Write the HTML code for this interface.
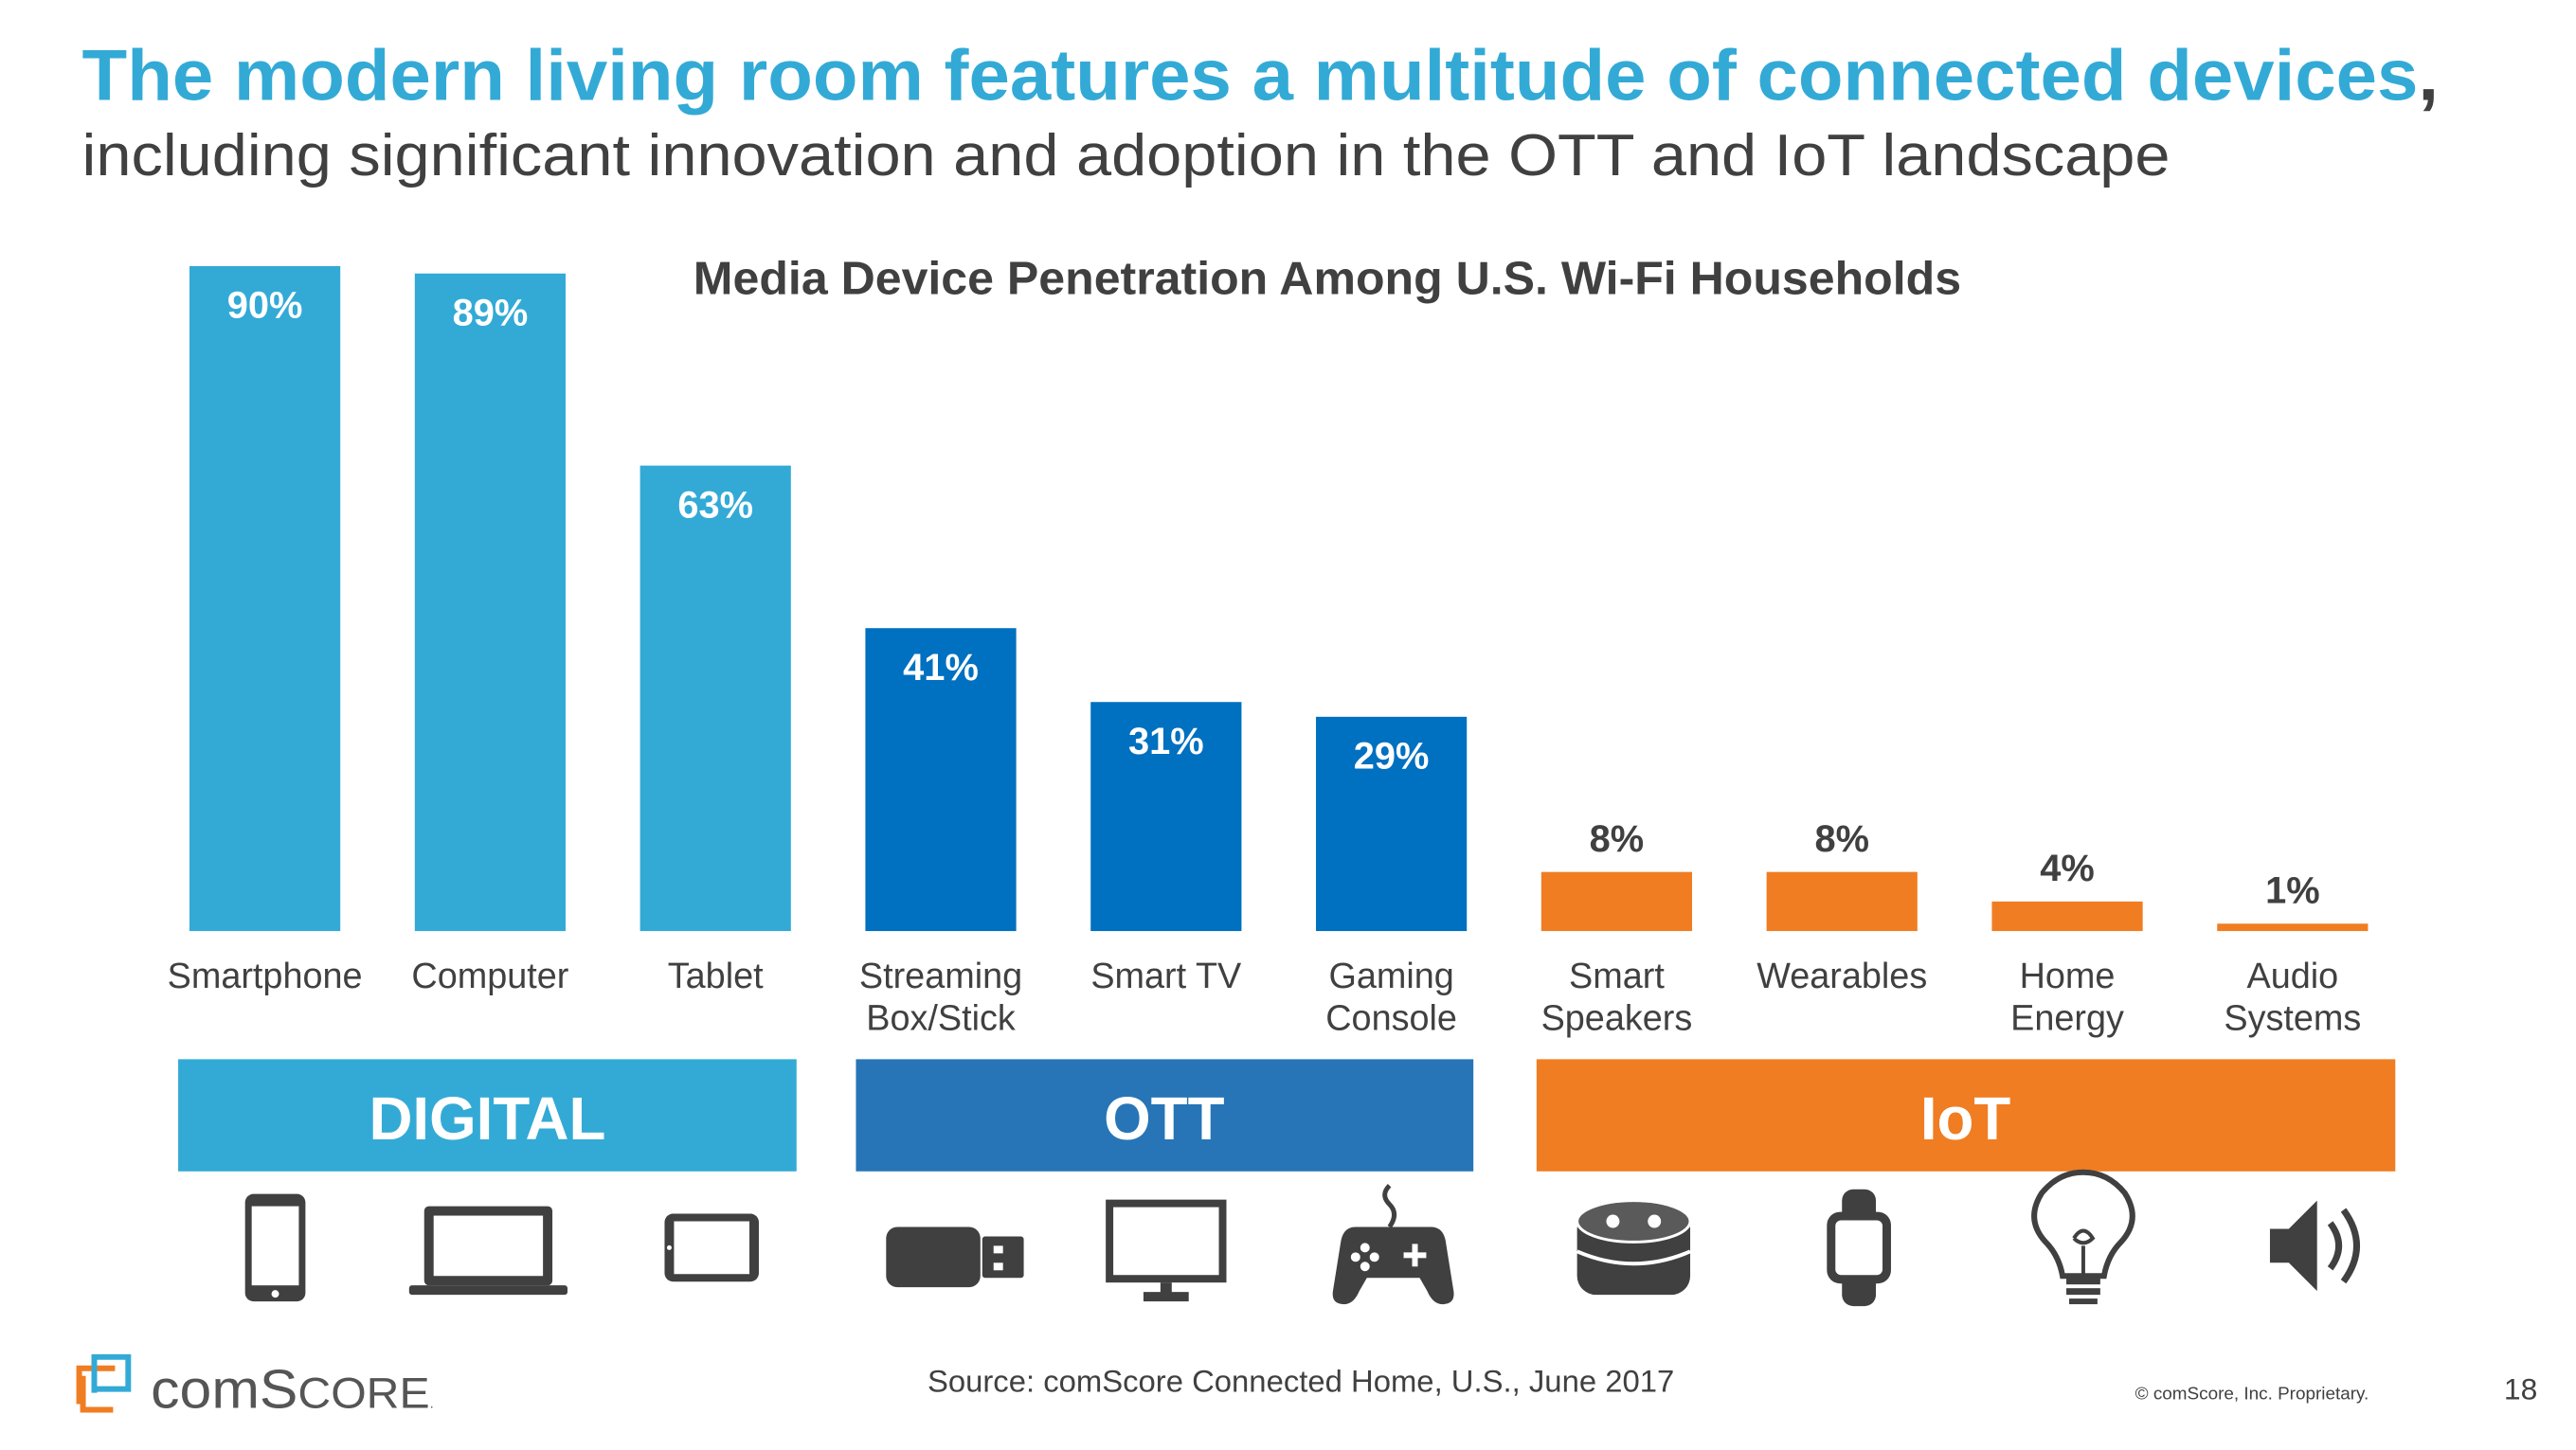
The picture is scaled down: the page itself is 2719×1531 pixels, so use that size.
<!DOCTYPE html>
<html><head><meta charset="utf-8"><style>
html,body{margin:0;padding:0;background:#fff;}
svg{display:block;font-family:"Liberation Sans",Arial,sans-serif;}
</style></head><body>
<svg id="chart" width="2719" height="1531" viewBox="0 0 2719 1531" xmlns="http://www.w3.org/2000/svg">
<g transform="scale(0.995)">
<text x="87" y="106" font-size="76" font-weight="bold" fill="#33aad6" textLength="2500" lengthAdjust="spacingAndGlyphs">The modern living room features a multitude of connected devices<tspan fill="#404040">,</tspan></text>
<text x="87" y="186" font-size="62" fill="#404040" textLength="2215" lengthAdjust="spacingAndGlyphs">including significant innovation and adoption in the OTT and IoT landscape</text>
<text x="1408" y="312" font-size="49" font-weight="bold" fill="#404040" text-anchor="middle" textLength="1345" lengthAdjust="spacingAndGlyphs">Media Device Penetration Among U.S. Wi-Fi Households</text>
<g id="bars"></g>
<g id="labels"></g>

<rect x="189" y="1124" width="656" height="119" fill="#33aad6"/>
<text x="517" y="1209" font-size="64" font-weight="bold" fill="#fff" text-anchor="middle">DIGITAL</text>
<rect x="908" y="1124" width="655" height="119" fill="#2775b6"/>
<text x="1235" y="1209" font-size="64" font-weight="bold" fill="#fff" text-anchor="middle">OTT</text>
<rect x="1630" y="1124" width="911" height="119" fill="#f07d22"/>
<text x="2085" y="1209" font-size="64" font-weight="bold" fill="#fff" text-anchor="middle">IoT</text>

<g fill="#404040">
<g transform="translate(292,1324)"><rect x="-32" y="-57" width="64" height="114" rx="9"/><rect x="-25" y="-44" width="50" height="84" fill="#fff"/><circle cx="0" cy="49" r="4" fill="#fff"/></g>
<g transform="translate(518,1324)"><rect x="-68" y="-44" width="136" height="84" rx="5"/><rect x="-58" y="-34" width="116" height="64" fill="#fff"/><rect x="-84" y="40" width="168" height="10" rx="3"/></g>
<g transform="translate(755,1324)"><rect x="-50" y="-36" width="100" height="72" rx="9"/><rect x="-40" y="-28" width="80" height="56" fill="#fff"/><circle cx="-45" cy="0" r="2.5" fill="#fff"/></g>
<g transform="translate(1010,1334)"><rect x="-70" y="-32" width="100" height="64" rx="12"/><rect x="32" y="-22" width="44" height="44" rx="3"/><rect x="44" y="-12" width="10" height="8" fill="#fff"/><rect x="44" y="6" width="10" height="8" fill="#fff"/></g>
<g transform="translate(1237,1318)"><rect x="-64" y="-45" width="128" height="88"/><rect x="-56" y="-37" width="112" height="72" fill="#fff"/><rect x="-6" y="43" width="12" height="12"/><rect x="-24" y="53" width="48" height="10"/></g>
<g transform="translate(1478,1330)"><path d="M-4,-72 q-10,10 0,20 q10,10 0,24" fill="none" stroke="#404040" stroke-width="5"/><path d="M-40,-28 h80 q14,0 16,18 l8,50 q2,14 -12,14 q-10,0 -16,-14 l-8,-14 h-56 l-8,14 q-6,14 -16,14 q-14,0 -12,-14 l8,-50 q2,-18 16,-18z"/><rect x="20" y="-10" width="6" height="24" fill="#fff"/><rect x="11" y="-1" width="24" height="6" fill="#fff"/><circle cx="-30" cy="-6" r="5" fill="#fff"/><circle cx="-20" cy="4" r="5" fill="#fff"/><circle cx="-40" cy="4" r="5" fill="#fff"/><circle cx="-30" cy="14" r="5" fill="#fff"/></g>
<g transform="translate(1733,1326)"><rect x="-60" y="-42" width="120" height="90" rx="20"/><ellipse cx="0" cy="-30" rx="60" ry="22" fill="#5a5a5a" stroke="#fff" stroke-width="3"/><circle cx="-22" cy="-30" r="7" fill="#fff"/><circle cx="22" cy="-30" r="7" fill="#fff"/><path d="M-60,2 q60,26 120,0" fill="none" stroke="#fff" stroke-width="4"/></g>
<g transform="translate(1972,1324)"><rect x="-18" y="-62" width="36" height="124" rx="12"/><rect x="-34" y="-38" width="68" height="76" rx="14"/><rect x="-25" y="-29" width="50" height="58" rx="6" fill="#fff"/></g>
<g transform="translate(2210,1316)"><path d="M-22,38 q-4,-22 -18,-36 q-22,-24 -4,-52 q18,-22 44,-22 q26,0 44,22 q18,28 -4,52 q-14,14 -18,36z" fill="none" stroke="#404040" stroke-width="6"/><path d="M0,36 v-30 m-10,-8 q10,-16 20,0 q-10,10 -20,0" fill="none" stroke="#404040" stroke-width="4"/><rect x="-18" y="40" width="36" height="7"/><rect x="-18" y="51" width="36" height="7"/><rect x="-15" y="62" width="30" height="6"/></g>
<g transform="translate(2458,1322)"><path d="M-50,-18 h20 l30,-30 v96 l-30,-30 h-20z"/><path d="M14,-24 q18,24 0,48" fill="none" stroke="#404040" stroke-width="7"/><path d="M28,-38 q28,38 0,76" fill="none" stroke="#404040" stroke-width="7"/></g>
</g>

<g>
<path d="M84,1490 v-38 h38 M88,1460 v36 h32" fill="none" stroke="#f07d22" stroke-width="6"/>
<path d="M100,1478 v-38 h36 v34 h-36" fill="none" stroke="#33aad6" stroke-width="6"/>
<text x="160" y="1494" font-size="58" fill="#555" textLength="300" lengthAdjust="spacingAndGlyphs">com<tspan>S</tspan><tspan font-size="46">CORE</tspan><tspan font-size="14">.</tspan></text>
</g>
<text x="1380" y="1477" font-size="33" fill="#404040" text-anchor="middle">Source: comScore Connected Home, U.S., June 2017</text>
<text x="2265" y="1485" font-size="19" fill="#404040">© comScore, Inc. Proprietary.</text>
<text x="2674" y="1485" font-size="32" fill="#404040" text-anchor="middle">18</text>
</g>
</svg>
<script>
const categories = [["Smartphone"],["Computer"],["Tablet"],["Streaming","Box/Stick"],["Smart TV"],["Gaming","Console"],["Smart","Speakers"],["Wearables"],["Home","Energy"],["Audio","Systems"]];
const values = [90, 89, 63, 41, 31, 29, 8, 8, 4, 1];
const groups = ["digital","digital","digital","ott","ott","ott","iot","iot","iot","iot"];
const valueLabels = ["90%","89%","63%","41%","31%","29%","8%","8%","4%","1%"];

const NS = "http://www.w3.org/2000/svg";
const colors = {digital:"#33aad6", ott:"#0070c0", iot:"#f07d22"};
const baseY = 988, pxPer = 7.84, x0 = 201, step = 239, bw = 160;
function xPos(i){ return x0 + i*step; }
function yPos(v){ return baseY - v*pxPer; }
const barsG = document.getElementById('bars');
const labelsG = document.getElementById('labels');
values.forEach((v,i)=>{
  const r = document.createElementNS(NS,'rect');
  
  
  r.setAttribute('x', xPos(i)); r.setAttribute('y', yPos(v));
  r.setAttribute('width', bw); r.setAttribute('height', baseY - yPos(v));
  r.setAttribute('fill', colors[groups[i]]);
  barsG.appendChild(r);
  const t = document.createElementNS(NS,'text');
  
  
  const inside = groups[i] !== 'iot';
  t.setAttribute('x', xPos(i)+bw/2);
  t.setAttribute('y', inside ? yPos(v)+55 : yPos(v)-22);
  t.setAttribute('font-size','40'); t.setAttribute('font-weight','bold');
  t.setAttribute('text-anchor','middle');
  t.setAttribute('fill', inside ? '#fff' : '#404040');
  t.textContent = valueLabels[i];
  barsG.appendChild(t);
  const c = document.createElementNS(NS,'text');
  
  
  c.setAttribute('font-size','38'); c.setAttribute('fill','#404040');
  c.setAttribute('text-anchor','middle');
  categories[i].forEach((line,j)=>{
    const ts = document.createElementNS(NS,'tspan');
    ts.setAttribute('x', xPos(i)+bw/2);
    ts.setAttribute('y', 1048 + j*45);
    ts.textContent = line;
    c.appendChild(ts);
  });
  labelsG.appendChild(c);
});
</script>
</body></html>
